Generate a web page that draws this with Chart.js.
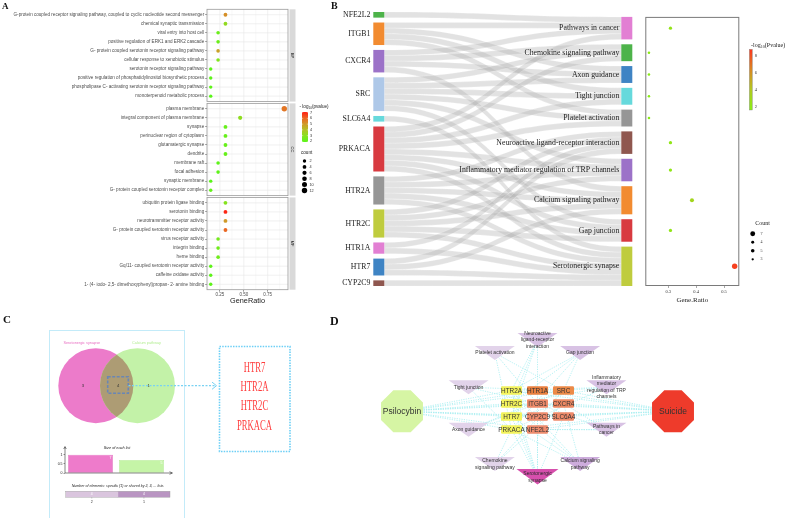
<!DOCTYPE html>
<html><head><meta charset="utf-8">
<script src="https://cdn.jsdelivr.net/npm/chart.js@4.4.1/dist/chart.umd.min.js"></script>
<style>
html,body{margin:0;padding:0;background:#fff}
#root{position:relative;width:790px;height:518px;overflow:hidden;background:#fff}
#root canvas{position:absolute}
.pl{position:absolute;font-family:"Liberation Serif","Times New Roman",serif;font-weight:bold;color:#111;line-height:1}
</style></head><body>
<div id="root">
<canvas id="cA" width="340" height="305" style="left:0px;top:0px"></canvas>
<canvas id="cBs" width="310" height="300" style="left:330px;top:0px"></canvas>
<canvas id="cBd" width="150" height="305" style="left:640px;top:0px"></canvas>
<canvas id="cC" width="320" height="213" style="left:0px;top:305px"></canvas>
<canvas id="cC1" width="145" height="40" style="left:40px;top:440px"></canvas>
<canvas id="cC2" width="125" height="25" style="left:55px;top:481px"></canvas>
<canvas id="cD" width="460" height="203" style="left:330px;top:315px"></canvas>
<div class="pl" style="left:2px;top:2px;font-size:9px">A</div>
<div class="pl" style="left:331px;top:1px;font-size:10px">B</div>
<div class="pl" style="left:3px;top:314px;font-size:11px">C</div>
<div class="pl" style="left:330px;top:315px;font-size:12px">D</div>
</div>
<script>
// ================= DATA =================
// Panel A : GO enrichment
const bpTerms = ["G-protein coupled receptor signaling pathway, coupled to cyclic nucleotide second messenger","chemical synaptic transmission","viral entry into host cell","positive regulation of ERK1 and ERK2 cascade","G- protein coupled serotonin receptor signaling pathway","cellular response to xenobiotic stimulus","serotonin receptor signaling pathway","positive regulation of phosphatidylinositol biosynthetic process","phospholipase C- activating serotonin receptor signaling pathway","monoterpenoid metabolic process"];
const bpRatio = [0.308,0.308,0.231,0.231,0.231,0.231,0.154,0.154,0.154,0.154];
const bpCount = [4,4,3,3,3,3,2,2,2,2];
const bpLogP  = [5.2,3.2,2.3,2.3,4.8,2.8,2.0,2.0,2.0,1.9];
const ccTerms = ["plasma membrane","integral component of plasma membrane","synapse","perinuclear region of cytoplasm","glutamatergic synapse","dendrite","membrane raft","focal adhesion","synaptic membrane","G- protein coupled serotonin receptor complex"];
const ccRatio = [0.923,0.462,0.308,0.308,0.308,0.308,0.231,0.231,0.154,0.154];
const ccCount = [12,6,4,4,4,4,3,3,2,2];
const ccLogP  = [5.7,3.1,2.2,2.2,2.2,2.2,2.0,2.0,1.9,2.1];
const mfTerms = ["ubiquitin protein ligase binding","serotonin binding","neurotransmitter receptor activity","G- protein coupled serotonin receptor activity","virus receptor activity","integrin binding","heme binding","Gq/11- coupled serotonin receptor activity","caffeine oxidase activity","1- (4- iodo- 2,5- dimethoxyphenyl)propan- 2- amine binding"];
const mfRatio = [0.308,0.308,0.308,0.308,0.231,0.231,0.231,0.154,0.154,0.154];
const mfCount = [4,4,4,4,3,3,3,2,2,2];
const mfLogP  = [2.9,7.0,5.0,6.0,2.5,2.4,2.4,2.0,2.0,2.0];
const facetNames = ["BP","CC","MF"];
const ratioTicksA = [0.25,0.5,0.75];
const pTicksA = [7,6,5,4,3,2];
const countTicksA = [2,4,6,8,10,12];

// Panel B : KEGG sankey + dot plot
const genes = ["NFE2L2","ITGB1","CXCR4","SRC","SLC6A4","PRKACA","HTR2A","HTR2C","HTR1A","HTR7","CYP2C9"];
const geneColors = ["#4db34a","#f28b30","#9c72c8","#aec8e8","#66d9dc","#d83a40","#969696","#bfcc3e","#e27fd3","#3f84c4","#8f574f"];
const pathways = ["Pathways in cancer","Chemokine signaling pathway","Axon guidance","Tight junction","Platelet activation","Neuroactive ligand-receptor interaction","Inflammatory mediator regulation of TRP channels","Calcium signaling pathway","Gap junction","Serotonergic synapse"];
const pathwayColors = ["#e27fd3","#4db34a","#3f84c4","#66d9dc","#969696","#8f574f","#9c72c8","#f28b30","#d83a40","#bfcc3e"];
const links = [
 ["NFE2L2","Pathways in cancer"],
 ["ITGB1","Pathways in cancer"],["ITGB1","Axon guidance"],["ITGB1","Tight junction"],["ITGB1","Platelet activation"],
 ["CXCR4","Pathways in cancer"],["CXCR4","Chemokine signaling pathway"],["CXCR4","Axon guidance"],["CXCR4","Calcium signaling pathway"],
 ["SRC","Chemokine signaling pathway"],["SRC","Axon guidance"],["SRC","Tight junction"],["SRC","Platelet activation"],["SRC","Inflammatory mediator regulation of TRP channels"],["SRC","Gap junction"],
 ["SLC6A4","Serotonergic synapse"],
 ["PRKACA","Pathways in cancer"],["PRKACA","Chemokine signaling pathway"],["PRKACA","Tight junction"],["PRKACA","Platelet activation"],["PRKACA","Inflammatory mediator regulation of TRP channels"],["PRKACA","Calcium signaling pathway"],["PRKACA","Gap junction"],["PRKACA","Serotonergic synapse"],
 ["HTR2A","Neuroactive ligand-receptor interaction"],["HTR2A","Inflammatory mediator regulation of TRP channels"],["HTR2A","Calcium signaling pathway"],["HTR2A","Gap junction"],["HTR2A","Serotonergic synapse"],
 ["HTR2C","Neuroactive ligand-receptor interaction"],["HTR2C","Inflammatory mediator regulation of TRP channels"],["HTR2C","Calcium signaling pathway"],["HTR2C","Gap junction"],["HTR2C","Serotonergic synapse"],
 ["HTR1A","Neuroactive ligand-receptor interaction"],["HTR1A","Serotonergic synapse"],
 ["HTR7","Neuroactive ligand-receptor interaction"],["HTR7","Calcium signaling pathway"],["HTR7","Serotonergic synapse"],
 ["CYP2C9","Serotonergic synapse"]
];
const pwRatio = [0.308,0.231,0.231,0.231,0.231,0.308,0.308,0.385,0.308,0.538];
const pwCount = [4,3,3,3,3,4,4,5,4,7];
const pwLogP  = [2.3,1.8,1.7,1.7,1.7,2.1,2.1,3.2,2.2,8.5];
const ratioTicksB = [0.3,0.4,0.5];
const pTicksB = [8,6,4,2];
const countLegendB = ["7","4","5","3"];

// Panel C : Venn
const vennSets = ["Serotonergic synapse","Calcium pathway"];
const vennSetColors = ["#ec7bca","#c3f2a8"];
const vennOnlyA = 3, vennShared = 4, vennOnlyB = 1;
const sharedGenes = ["HTR7","HTR2A","HTR2C","PRKACA"];
const listSizes = [7,5];
const sharedByLabels = ["2","1"];
const sharedByCounts = [4,4];

// Panel D : network
const netGenes = ["HTR2A","HTR1A","SRC","HTR2C","ITGB1","CXCR4","HTR7","CYP2C9","SLC6A4","PRKACA","NFE2L2"];
const netGeneColors = ["#f3f35c","#e9803f","#ec8a48","#f3f35c","#ee8b6b","#ec8862","#f3f35c","#ee8c6e","#ee8b6b","#f3f35c","#ee8c6e"];
const ringOrder = ["Neuroactive ligand-receptor interaction","Gap junction","Inflammatory mediator regulation of TRP channels","Pathways in cancer","Calcium signaling pathway","Serotonergic synapse","Chemokine signaling pathway","Axon guidance","Tight junction","Platelet activation"];
const ringLabels = [["Neuroactive","ligand-receptor","interaction"],["Gap junction"],["Inflammatory","mediator","regulation of TRP","channels"],["Pathways in","cancer"],["Calcium signaling","pathway"],["Serotonergic","synapse"],["Chemokine","signaling pathway"],["Axon guidance"],["Tight junction"],["Platelet activation"]];
const hubs = ["Psilocybin","Suicide"];
const hubColors = ["#d6f5a4","#ee3b2b"];

// ================= HELPERS =================
Chart.defaults.animation=false;
Chart.defaults.responsive=false;
Chart.defaults.devicePixelRatio=1;
Chart.defaults.events=[];
Chart.defaults.plugins.legend.display=false;
Chart.defaults.plugins.tooltip.enabled=false;
const SANS='"Liberation Sans", Arial, sans-serif';
const SERIF='"Liberation Serif", "Times New Roman", serif';
function lerpStops(st,t){t=Math.max(0,Math.min(1,t));const n=st.length-1;const k=Math.min(n-1,Math.floor(t*n));const u=t*n-k;const a=st[k],b=st[k+1];return 'rgb('+[0,1,2].map(i=>Math.round(a[i]+(b[i]-a[i])*u)).join(',')+')';}
const stopsA=[[90,245,25],[135,226,30],[178,194,36],[208,152,40],[236,100,35],[255,32,20]];
const A_LO=1.9,A_HI=7.1;
const colA=v=>lerpStops(stopsA,(v-A_LO)/(A_HI-A_LO));
const rA=c=>1.5+0.1*c;
const stopsB=[[135,238,20],[176,200,32],[216,135,35],[250,55,30]];
const B_LO=1.6,B_HI=8.8;
const colB=v=>lerpStops(stopsB,(v-B_LO)/(B_HI-B_LO));
const rB=c=>0.2+0.36*c;
function ln(ctx,x1,y1,x2,y2){ctx.beginPath();ctx.moveTo(x1,y1);ctx.lineTo(x2,y2);ctx.stroke();}

// ================= PANEL A =================
const FACETS=[{name:facetNames[0],terms:bpTerms,ratio:bpRatio,count:bpCount,logp:bpLogP},
 {name:facetNames[1],terms:ccTerms,ratio:ccRatio,count:ccCount,logp:ccLogP},
 {name:facetNames[2],terms:mfTerms,ratio:mfRatio,count:mfCount,logp:mfLogP}];
const FSTEP=10.4;
const rowsA=[],bubA=[];
FACETS.forEach((F,f)=>F.terms.forEach((t,i)=>{const p=f*FSTEP+i;rowsA.push({p,t});bubA.push({x:F.ratio[i],y:p,r:rA(F.count[i]),c:colA(F.logp[i])});}));
const facetPlugin={id:'facetA',
 beforeDatasetsDraw(chart){
  const {ctx,chartArea:a,scales:{x,y}}=chart;ctx.save();
  FACETS.forEach((F,f)=>{
   const top=y.getPixelForValue(f*FSTEP-0.6),bot=y.getPixelForValue(f*FSTEP+9.6);
   ctx.fillStyle='#fff';ctx.fillRect(a.left,top,a.right-a.left,bot-top);
   ctx.strokeStyle='#f3f3f3';ctx.lineWidth=0.5;
   [0.125,0.375,0.625,0.875].forEach(v=>{const px=x.getPixelForValue(v);ln(ctx,px,top,px,bot);});
   ctx.strokeStyle='#e6e6e6';ctx.lineWidth=0.6;
   ratioTicksA.forEach(v=>{const px=x.getPixelForValue(v);ln(ctx,px,top,px,bot);});
   F.terms.forEach((t,i)=>{const py=y.getPixelForValue(f*FSTEP+i);ln(ctx,a.left,py,a.right,py);});
   ctx.strokeStyle='#9a9a9a';ctx.lineWidth=0.8;ctx.strokeRect(a.left,top,a.right-a.left,bot-top);
   ctx.fillStyle='#d9d9d9';ctx.fillRect(a.right+1.5,top,6,bot-top);
   ctx.save();ctx.translate(a.right+4.5,(top+bot)/2);ctx.rotate(Math.PI/2);ctx.fillStyle='#1a1a1a';ctx.font='4px '+SANS;ctx.textAlign='center';ctx.textBaseline='middle';ctx.fillText(F.name,0,0);ctx.restore();
  });
  ctx.restore();
 },
 afterDraw(chart){
  const ctx=chart.ctx;ctx.save();
  ctx.fillStyle='#1a1a1a';ctx.textBaseline='middle';ctx.textAlign='left';
  ctx.font='4.6px '+SANS;let tx=299.5;ctx.fillText('- log',tx,107);tx+=ctx.measureText('- log').width;
  ctx.font='3.2px '+SANS;ctx.fillText('10',tx,108.3);tx+=ctx.measureText('10').width;
  ctx.font='4.6px '+SANS;ctx.fillText('(pvalue)',tx,107);
  const cbT=112,cbB=142;const g=ctx.createLinearGradient(0,cbB,0,cbT);
  stopsA.forEach((s,i)=>g.addColorStop(i/(stopsA.length-1),'rgb('+s.join(',')+')'));
  ctx.fillStyle=g;ctx.fillRect(302,cbT,6,cbB-cbT);
  ctx.font='3.8px '+SANS;ctx.fillStyle='#333';
  pTicksA.forEach(v=>{const py=cbB-(v-A_LO)/(A_HI-A_LO)*(cbB-cbT);ctx.strokeStyle='#fff';ctx.lineWidth=0.4;ln(ctx,302,py,303.2,py);ln(ctx,306.8,py,308,py);ctx.fillText(String(v),310,py);});
  ctx.fillStyle='#1a1a1a';ctx.font='4.6px '+SANS;ctx.fillText('count',301,153);
  countTicksA.forEach((c,k)=>{const py=161+k*5.9;ctx.fillStyle='#000';ctx.beginPath();ctx.arc(304.5,py,rA(c),0,Math.PI*2);ctx.fill();ctx.fillStyle='#333';ctx.font='3.8px '+SANS;ctx.fillText(String(c),309.5,py);});
  ctx.restore();
 }};
new Chart(document.getElementById('cA'),{type:'bubble',
 data:{datasets:[{data:bubA,backgroundColor:bubA.map(d=>d.c),borderWidth:0}]},
 options:{layout:{padding:{left:0,top:9.3,right:52,bottom:0}},
  scales:{
   x:{type:'linear',min:0.115,max:0.962,afterBuildTicks:s=>{s.ticks=ratioTicksA.map(v=>({value:v}));},afterFit:s=>{s.height=305-289.7;},
      grid:{drawOnChartArea:false,drawTicks:true,tickLength:2,tickColor:'#333',lineWidth:0.5},border:{display:false},
      ticks:{font:{size:4.5,family:SANS},color:'#4d4d4d',padding:0.5,maxRotation:0,autoSkip:false,callback:v=>Number(v).toFixed(2)},
      title:{display:true,text:'GeneRatio',font:{size:7.3,family:SANS},color:'#1a1a1a',padding:{top:0,bottom:0}}},
   y:{type:'linear',reverse:true,min:-0.6,max:2*FSTEP+9.6,afterBuildTicks:s=>{s.ticks=rowsA.map(r=>({value:r.p}));},afterFit:s=>{s.width=207;},
      grid:{drawOnChartArea:false,drawTicks:true,tickLength:1.8,tickColor:'#333',lineWidth:0.5},border:{display:false},
      ticks:{autoSkip:false,font:{size:4.6,family:SANS},color:'#4d4d4d',padding:1,callback:(v,i)=>rowsA[i]?rowsA[i].t:''}}
  }},
 plugins:[facetPlugin]});

// ================= PANEL B =================
const GAP=0.87,NW=11/259;
const gTot=genes.map(g=>links.filter(l=>l[0]===g).length);
const pTot=pathways.map(p=>links.filter(l=>l[1]===p).length);
const leftTotal=links.length+(genes.length-1)*GAP;
const rightTotal=links.length+(pathways.length-1)*GAP;
let cum=0;const gTop=genes.map((g,i)=>{const t=leftTotal-cum;cum+=gTot[i]+GAP;return t;});
cum=0;const pTop=pathways.map((p,j)=>{const t=rightTotal-cum;cum+=pTot[j]+GAP;return t;});
const LK=links.map(l=>({s:genes.indexOf(l[0]),t:pathways.indexOf(l[1])}));
{const so=genes.map(()=>0),to=pathways.map(()=>0);
 [...LK].sort((a,b)=>a.s-b.s||a.t-b.t).forEach(k=>{k.sy=gTop[k.s]-so[k.s];so[k.s]+=1;});
 [...LK].sort((a,b)=>a.t-b.t||a.s-b.s).forEach(k=>{k.ty=pTop[k.t]-to[k.t];to[k.t]+=1;});}
const B_TOP=12,B_BOT=286;const PXU=(B_BOT-B_TOP)/leftTotal;
const sankeyPlugin={id:'sankey',
 afterDatasetsDraw(chart){
  const {ctx,scales:{x,y}}=chart;ctx.save();
  const x0=x.getPixelForValue(NW),x1=x.getPixelForValue(1-NW),xm=(x0+x1)/2;
  LK.forEach(k=>{
   const s0=y.getPixelForValue(k.sy),s1=y.getPixelForValue(k.sy-1),t0=y.getPixelForValue(k.ty),t1=y.getPixelForValue(k.ty-1);
   ctx.beginPath();ctx.moveTo(x0,s0);ctx.bezierCurveTo(xm,s0,xm,t0,x1,t0);ctx.lineTo(x1,t1);ctx.bezierCurveTo(xm,t1,xm,s1,x0,s1);ctx.closePath();
   ctx.fillStyle='rgba(175,175,175,0.36)';ctx.fill();ctx.strokeStyle='rgba(255,255,255,0.5)';ctx.lineWidth=0.4;ctx.stroke();
  });
  ctx.font='7.8px '+SERIF;ctx.textBaseline='middle';ctx.textAlign='right';
  genes.forEach((g,i)=>{const t=y.getPixelForValue(gTop[i]),b=y.getPixelForValue(gTop[i]-gTot[i]);const l=x.getPixelForValue(0),r=x.getPixelForValue(NW);
   ctx.fillStyle=geneColors[i];ctx.fillRect(l,t,r-l,b-t);ctx.fillStyle='#222';ctx.fillText(g,l-3,(t+b)/2);});
  pathways.forEach((p,j)=>{const t=y.getPixelForValue(pTop[j]),b=y.getPixelForValue(pTop[j]-pTot[j]);const l=x.getPixelForValue(1-NW),r=x.getPixelForValue(1);
   ctx.fillStyle=pathwayColors[j];ctx.fillRect(l,t,r-l,b-t);ctx.fillStyle='#222';ctx.fillText(p,l-2,(t+b)/2);});
  ctx.restore();
 }};
new Chart(document.getElementById('cBs'),{type:'scatter',data:{datasets:[{data:[]}]},
 options:{layout:{padding:{left:43.3,right:7.7,top:B_TOP,bottom:300-B_BOT}},
  scales:{x:{display:false,min:0,max:1},y:{display:false,min:0,max:leftTotal}}},
 plugins:[sankeyPlugin]});

const dotTop=B_BOT-rightTotal*PXU;
const bubB=pathways.map((p,j)=>({x:pwRatio[j],y:pTop[j]-pTot[j]/2,r:rB(pwCount[j])}));
const dotPlugin={id:'dotB',
 beforeDatasetsDraw(chart){const {ctx,chartArea:a}=chart;ctx.save();ctx.strokeStyle='#7a7a7a';ctx.lineWidth=1;ctx.strokeRect(a.left+0.5,a.top+0.5,a.right-a.left-1,a.bottom-a.top-1);ctx.restore();},
 afterDraw(chart){
  const ctx=chart.ctx;ctx.save();ctx.textBaseline='middle';ctx.textAlign='left';ctx.fillStyle='#222';
  let tx=111;ctx.font='6px '+SERIF;ctx.fillText('-log',tx,45);tx+=ctx.measureText('-log').width;
  ctx.font='4.2px '+SERIF;ctx.fillText('10',tx,46.5);tx+=ctx.measureText('10').width;
  ctx.font='6px '+SERIF;ctx.fillText('(Pvalue)',tx,45);
  const cbT=49.3,cbB=110,cx=109.3;const g=ctx.createLinearGradient(0,cbB,0,cbT);
  stopsB.forEach((s,i)=>g.addColorStop(i/(stopsB.length-1),'rgb('+s.join(',')+')'));
  ctx.fillStyle=g;ctx.fillRect(cx,cbT,3,cbB-cbT);ctx.strokeStyle='#888';ctx.lineWidth=0.4;ctx.strokeRect(cx,cbT,3,cbB-cbT);
  ctx.font='4.4px '+SERIF;ctx.fillStyle='#333';
  pTicksB.forEach(v=>{const py=cbB-(v-B_LO)/(B_HI-B_LO)*(cbB-cbT);ctx.fillText(String(v),cx+5.5,py);});
  ctx.font='6px '+SERIF;ctx.fillStyle='#222';ctx.textAlign='center';ctx.fillText('Count',122.5,223.3);ctx.textAlign='left';
  countLegendB.forEach((c,k)=>{const py=[233.7,242.3,250.7,259.3][k];ctx.fillStyle='#000';ctx.beginPath();ctx.arc(112.7,py,rB(Number(c))*0.9,0,Math.PI*2);ctx.fill();ctx.fillStyle='#333';ctx.font='4px '+SERIF;ctx.fillText(c,120.5,py);});
  ctx.restore();
 }};
new Chart(document.getElementById('cBd'),{type:'bubble',
 data:{datasets:[{data:bubB,backgroundColor:pwLogP.map(colB),borderWidth:0}]},
 options:{layout:{padding:{left:5.3,right:50.7,top:dotTop,bottom:0}},
  scales:{
   x:{type:'linear',min:0.2179,max:0.5546,afterBuildTicks:s=>{s.ticks=ratioTicksB.map(v=>({value:v}));},afterFit:s=>{s.height=305-B_BOT;},
      grid:{drawOnChartArea:false,drawTicks:true,tickLength:2,tickColor:'#555',lineWidth:0.5},border:{display:false},
      ticks:{font:{size:4.5,family:SERIF},color:'#333',padding:1,maxRotation:0,autoSkip:false,callback:v=>Number(v).toFixed(1)},
      title:{display:true,text:'Gene.Ratio',font:{size:7,family:SERIF},color:'#222',padding:{top:0,bottom:1}}},
   y:{display:false,min:0,max:rightTotal}}},
 plugins:[dotPlugin]});

// ================= PANEL C =================
const VR=1,VD=0.555;
const vennCenters=[-VD,VD];
const vennPlugin={id:'venn',
 afterDatasetsDraw(chart){
  const {ctx,scales:{x,y}}=chart;ctx.save();
  const R=x.getPixelForValue(VR)-x.getPixelForValue(0);
  const ax=x.getPixelForValue(vennCenters[0]),bx=x.getPixelForValue(vennCenters[1]),cy=y.getPixelForValue(0);
  ctx.fillStyle=vennSetColors[0];ctx.beginPath();ctx.arc(ax,cy,R,0,Math.PI*2);ctx.fill();
  ctx.fillStyle=vennSetColors[1];ctx.beginPath();ctx.arc(bx,cy,R,0,Math.PI*2);ctx.fill();
  ctx.beginPath();ctx.arc(ax,cy,R,0,Math.PI*2);ctx.clip();
  ctx.beginPath();ctx.arc(bx,cy,R,0,Math.PI*2);ctx.fillStyle='#ad9c74';ctx.fill();
  ctx.restore();ctx.save();
  const Y=v=>v-305;
  ctx.strokeStyle='#86d6f2';ctx.lineWidth=1;ctx.setLineDash([1,1]);ctx.strokeRect(49.5,Y(330.5),135,220);
  ctx.setLineDash([]);ctx.font='3.8px '+SANS;ctx.textAlign='center';ctx.textBaseline='middle';
  ctx.fillStyle='#e86fc3';ctx.fillText(vennSets[0],ax-14,Y(343.3));
  ctx.fillStyle='#b4ee94';ctx.fillText(vennSets[1],bx+9,Y(343.3));
  ctx.fillStyle='#333';ctx.font='4.2px '+SANS;
  ctx.fillText(String(vennOnlyA),x.getPixelForValue(-0.9),cy);
  ctx.fillText(String(vennShared),x.getPixelForValue(0.04),cy);
  ctx.fillText(String(vennOnlyB),x.getPixelForValue(0.85),cy);
  ctx.strokeStyle='#6a86b4';ctx.lineWidth=1.6;ctx.setLineDash([3,1.5]);ctx.strokeRect(107.7,Y(376.7),20.6,16.6);
  ctx.strokeStyle='#79d2f3';ctx.lineWidth=1.2;ctx.setLineDash([2,1.5]);ln(ctx,128.5,cy,216,cy);
  ctx.setLineDash([]);ctx.lineWidth=1;ctx.beginPath();ctx.moveTo(212,cy-3.6);ctx.lineTo(216.5,cy);ctx.lineTo(212,cy+3.6);ctx.stroke();
  ctx.strokeStyle='#6dcff6';ctx.lineWidth=1.6;ctx.setLineDash([1.5,1.2]);ctx.strokeRect(219.5,Y(346.5),70.5,105);
  ctx.setLineDash([]);ctx.fillStyle='#ff3b3b';ctx.font='14px '+SERIF;
  sharedGenes.forEach((gname,k)=>{ctx.save();ctx.translate(254.5,Y(368)+k*19.4);ctx.scale(0.62,1);ctx.fillText(gname,0,0);ctx.restore();});
  ctx.restore();
 }};
new Chart(document.getElementById('cC'),{type:'scatter',
 data:{datasets:[{data:vennCenters.map(c=>({x:c,y:0})),pointRadius:0}]},
 options:{layout:{padding:{left:58.3,right:145,top:43.2,bottom:94.8}},
  scales:{x:{display:false,min:-(VD+VR),max:VD+VR},y:{display:false,min:-VR,max:VR}}},
 plugins:[vennPlugin]});

const maxSize=Math.max(...listSizes);
const barC1Plugin={id:'barC1',
 afterDraw(chart){
  const {ctx,chartArea:a}=chart;ctx.save();
  ctx.fillStyle='#222';ctx.font='italic 3.8px '+SANS;ctx.textAlign='center';ctx.textBaseline='middle';ctx.fillText('Size of each list',77,8);
  ctx.strokeStyle='#333';ctx.lineWidth=0.6;
  ln(ctx,a.left,a.bottom,a.left,7);ctx.beginPath();ctx.moveTo(a.left-1.3,9);ctx.lineTo(a.left,6.5);ctx.lineTo(a.left+1.3,9);ctx.stroke();
  ln(ctx,a.left,a.bottom,132,a.bottom);ctx.beginPath();ctx.moveTo(129.5,a.bottom-1.3);ctx.lineTo(132.5,a.bottom);ctx.lineTo(129.5,a.bottom+1.3);ctx.stroke();
  const meta=chart.getDatasetMeta(0);ctx.fillStyle='#fff';ctx.font='3.5px '+SANS;
  meta.data.forEach((b,i)=>{ctx.fillText(String(listSizes[i]),b.x+b.width/2-2.5,b.y+3);});
  ctx.restore();
 }};
new Chart(document.getElementById('cC1'),{type:'bar',
 data:{labels:vennSets,datasets:[{data:listSizes.map(s=>s/maxSize),backgroundColor:['#ee7bcb','#c5f4a7'],borderColor:['#d865b5','#a9e48a'],borderWidth:0.6,barPercentage:0.88,categoryPercentage:1}]},
 options:{layout:{padding:{left:0,right:18,top:9.2,bottom:0}},
  scales:{
   x:{grid:{display:false},border:{display:false},afterFit:s=>{s.height=7;},ticks:{font:{size:3.2,family:SANS},color:'#222',padding:1,maxRotation:0,autoSkip:false}},
   y:{min:0,max:1.3,afterBuildTicks:s=>{s.ticks=[0,0.5,1].map(v=>({value:v}));},afterFit:s=>{s.width=25;},
      grid:{drawOnChartArea:false,drawTicks:true,tickLength:1.5,tickColor:'#333',lineWidth:0.5},border:{display:false},
      ticks:{font:{size:3.5,family:SANS},color:'#222',padding:1,callback:v=>String(v)}}}},
 plugins:[barC1Plugin]});

const barC2Plugin={id:'barC2',
 afterDraw(chart){
  const {ctx,chartArea:a}=chart;ctx.save();
  ctx.fillStyle='#222';ctx.font='italic 3.6px '+SANS;ctx.textAlign='center';ctx.textBaseline='middle';
  ctx.fillText('Number of elements: specific (1) or shared by 2, 3, ... lists',62.7,5.3);
  ctx.strokeStyle='#999';ctx.lineWidth=0.4;ctx.strokeRect(a.left,a.top,a.right-a.left,a.bottom-a.top);
  chart.data.datasets.forEach((d,k)=>{const el=chart.getDatasetMeta(k).data[0];const cx=el.x-el.width/2;
   ctx.fillStyle='#fff';ctx.font='3.4px '+SANS;ctx.fillText(String(sharedByCounts[k]),cx,el.y);
   ctx.fillStyle='#333';ctx.font='3.6px '+SANS;ctx.fillText(sharedByLabels[k],cx,20.7);
   ctx.strokeStyle='#777';ln(ctx,cx,a.bottom,cx,a.bottom+1.2);});
  ctx.restore();
 }};
new Chart(document.getElementById('cC2'),{type:'bar',
 data:{labels:[''],datasets:[{data:[sharedByCounts[0]],backgroundColor:'#dac5de'},{data:[sharedByCounts[1]],backgroundColor:'#b995c2'}]},
 options:{indexAxis:'y',layout:{padding:{left:10.7,right:10,top:10.3,bottom:8.7}},
  datasets:{bar:{barPercentage:1,categoryPercentage:1,borderWidth:0}},
  scales:{x:{display:false,stacked:true,min:0,max:sharedByCounts[0]+sharedByCounts[1]},y:{display:false,stacked:true}}},
 plugins:[barC2Plugin]});

// ================= PANEL D =================
const GDX=26,GDY=13,RRX=72.5,RRY=68.5,RCY=1.5,HUBX=135.5,HUBY=-1.2;
const genePos=netGenes.map((g,k)=>({x:(k%3-1)*GDX,y:(1.5-Math.floor(k/3))*GDY}));
const ringPos=ringOrder.map((p,k)=>{const a=(90-36*k)*Math.PI/180;return {x:RRX*Math.cos(a),y:RCY+RRY*Math.sin(a)};});
const hubPos=[{x:-HUBX,y:HUBY},{x:HUBX,y:HUBY}];
const edgePts=[];
const addEdge=(a,b)=>{edgePts.push({x:a.x,y:a.y},{x:b.x,y:b.y},{x:null,y:null});};
netGenes.forEach((g,k)=>{addEdge(hubPos[0],genePos[k]);addEdge(hubPos[1],genePos[k]);});
links.forEach(l=>{addEdge(ringPos[ringOrder.indexOf(l[1])],genePos[netGenes.indexOf(l[0])]);});
const degColor={3:'#e2d3ea',4:'#d8c2e4',5:'#cdacdc',7:'#d64fac'};
const netPlugin={id:'net',
 afterDatasetsDraw(chart){
  const {ctx,scales:{x,y}}=chart;ctx.save();ctx.textAlign='center';ctx.textBaseline='middle';
  const P=p=>[x.getPixelForValue(p.x),y.getPixelForValue(p.y)];
  ringOrder.forEach((p,k)=>{const [cx,cy]=P(ringPos[k]);const deg=links.filter(l=>l[1]===p).length;const big=deg>=7;
   const w=big?21:20;ctx.beginPath();ctx.moveTo(cx-w,cy-(big?8:7));ctx.lineTo(cx+w,cy-(big?8:7));ctx.lineTo(cx,cy+(big?7.6:7));ctx.closePath();
   ctx.fillStyle=degColor[deg]||'#ddd';ctx.fill();
   ctx.fillStyle=big?'#2a2a2a':'#333';ctx.font='5px '+SANS;const L=ringLabels[k];
   L.forEach((t,i)=>ctx.fillText(t,cx,cy+(i-(L.length-1)/2)*6.5));});
  netGenes.forEach((g,k)=>{const [cx,cy]=P(genePos[k]);const w=21,h=8.6,r=1.2;
   ctx.beginPath();ctx.roundRect(cx-w/2,cy-h/2,w,h,r);ctx.fillStyle=netGeneColors[k];ctx.fill();
   ctx.fillStyle='#333';ctx.font='6.4px '+SANS;ctx.fillText(g,cx,cy+0.3);});
  hubs.forEach((h,k)=>{const [cx,cy]=P(hubPos[k]);const R=22.7;ctx.beginPath();
   for(let i=0;i<8;i++){const a=Math.PI/8+i*Math.PI/4;const px=cx+R*Math.cos(a),py=cy+R*Math.sin(a);i?ctx.lineTo(px,py):ctx.moveTo(px,py);}
   ctx.closePath();ctx.fillStyle=hubColors[k];ctx.fill();ctx.fillStyle='#333';ctx.font='8.5px '+SANS;ctx.fillText(h,cx,cy);});
  ctx.restore();
 }};
new Chart(document.getElementById('cD'),{type:'scatter',
 data:{datasets:[{data:edgePts,showLine:true,spanGaps:false,borderColor:'#a4eef0',borderWidth:0.8,borderDash:[1.2,1.2],pointRadius:0}]},
 options:{layout:{padding:{left:47.5,right:92.5,top:10,bottom:23}},
  scales:{x:{display:false,min:-160,max:160},y:{display:false,min:-85,max:85}}},
 plugins:[netPlugin]});
</script>
</body></html>
